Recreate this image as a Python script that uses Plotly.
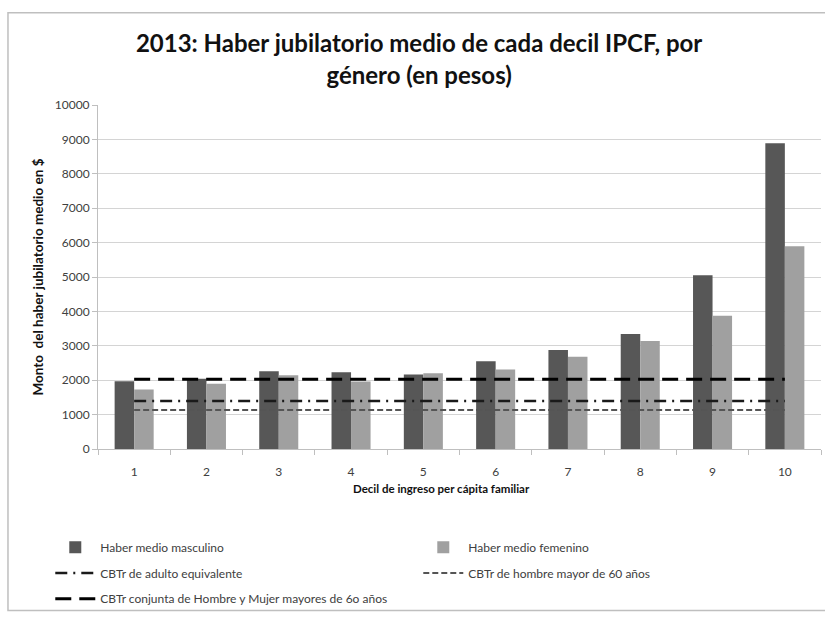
import plotly.graph_objects as go

# Deciles of per-capita family income
deciles = [1, 2, 3, 4, 5, 6, 7, 8, 9, 10]

# Mean pension by decile and gender (pesos)
haber_masculino = [1970, 2040, 2260, 2230, 2165, 2550, 2880, 3340, 5050, 8890]
haber_femenino = [1730, 1895, 2145, 1960, 2200, 2310, 2680, 3140, 3875, 5895]

# Reference basket lines (constant across deciles)
cbtr_adulto_equivalente = [1395] * 10
cbtr_hombre_60 = [1135] * 10
cbtr_conjunta_60 = [2025] * 10

y_ticks = list(range(0, 10001, 1000))
y_tick_text = [str(v) for v in y_ticks]

FONT = "Lato"
GRAY_TXT = "#404040"

fig = go.Figure()

fig.add_trace(go.Bar(
    x=deciles, y=haber_masculino, name="Haber medio masculino",
    marker=dict(color="#575757", line=dict(width=0)), legend="legend",
))
fig.add_trace(go.Bar(
    x=deciles, y=haber_femenino, name="Haber medio femenino",
    marker=dict(color="#a0a0a0", line=dict(width=0)), legend="legend",
))
fig.add_trace(go.Scatter(
    x=deciles, y=cbtr_adulto_equivalente, mode="lines",
    name="CBTr de adulto equivalente",
    line=dict(color="#1a1a1a", width=2.5, dash="12px,6px,2px,6px"),
    legend="legend2",
))
fig.add_trace(go.Scatter(
    x=deciles, y=cbtr_hombre_60, mode="lines",
    name="CBTr de hombre mayor de 60 años",
    line=dict(color="#555555", width=2, dash="6px,3px"),
    legend="legend2",
))
fig.add_trace(go.Scatter(
    x=deciles, y=cbtr_conjunta_60, mode="lines",
    name="CBTr conjunta de Hombre y Mujer mayores de 6o años",
    line=dict(color="#000000", width=3, dash="16px,8px"),
    legend="legend3",
))

legend_common = dict(
    orientation="h", xanchor="left", yanchor="middle",
    entrywidth=313, entrywidthmode="pixels",
    font=dict(family=FONT, size=12, color=GRAY_TXT),
    bgcolor="rgba(0,0,0,0)", itemwidth=40, traceorder="normal",
)

fig.update_layout(
    width=825, height=617,
    margin=dict(l=98, r=4, t=105, b=165),
    paper_bgcolor="white", plot_bgcolor="white",
    barmode="group", bargap=0.46, bargroupgap=0,
    title=dict(
        text="<b>2013: Haber jubilatorio medio de cada decil IPCF, por<br>género (en pesos)</b>",
        x=0.508, xanchor="center", y=0.915, yanchor="top",
        font=dict(family=FONT, size=24, color="#111111"),
    ),
    xaxis=dict(
        range=[0.5, 10.5], tickvals=deciles, ticktext=[str(d) for d in deciles],
        ticks="", showgrid=False, zeroline=False,
        showline=True, linecolor="#bfbfbf", linewidth=1,
        tickfont=dict(family=FONT, size=12, color=GRAY_TXT),
        ticklabelstandoff=12,
        minor=dict(tick0=0.5, dtick=1, ticks="outside", ticklen=5,
                   tickcolor="#bfbfbf", showgrid=False),
    ),
    yaxis=dict(
        range=[0, 10000], tickvals=y_ticks, ticktext=y_tick_text,
        ticks="outside", ticklen=5,
        tickcolor="#bfbfbf", showgrid=True, gridcolor="#d4d4d4", gridwidth=1,
        zeroline=False, showline=True, linecolor="#bfbfbf", linewidth=1,
        tickfont=dict(family=FONT, size=12, color=GRAY_TXT),
        title=dict(text="<b>Monto  del haber jubilatorio medio en $</b>",
                   font=dict(family=FONT, size=13.5, color="#111111"), standoff=8),
    ),
    annotations=[dict(
        text="<b>Decil de ingreso per cápita familiar</b>",
        xref="paper", yref="paper", x=(441 - 98) / 723, y=(452 - 492) / 347,
        xanchor="center", yanchor="middle", showarrow=False,
        font=dict(family=FONT, size=11.5, color="#111111"),
    )],
    legend=dict(x=-0.066, y=(452 - 551) / 347, **legend_common),
    legend2=dict(x=-0.066, y=(452 - 577) / 347, **legend_common),
    legend3=dict(x=-0.066, y=(452 - 603) / 347, **legend_common),
    shapes=[dict(
        type="rect", xref="paper", yref="paper",
        x0=-0.1245, x1=1.02, y0=-0.4697, y1=1.268,
        line=dict(color="#bfbfbf", width=1.5), fillcolor="rgba(0,0,0,0)",
        layer="below",
    )],
)

fig.write_html("out.html")
